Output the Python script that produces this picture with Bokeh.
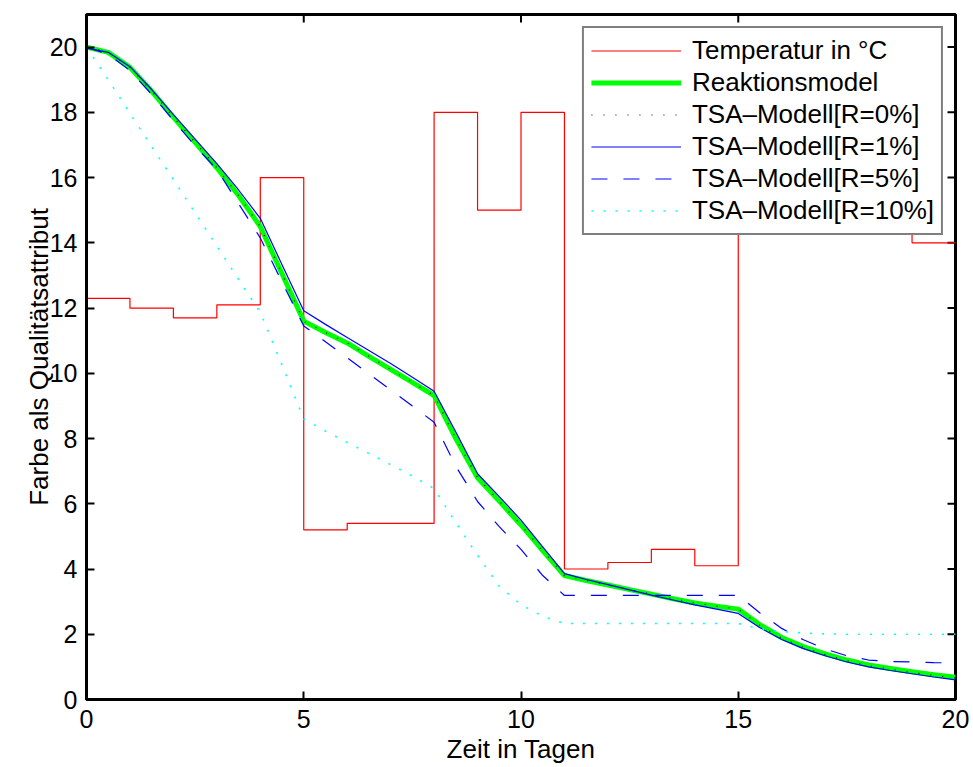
from bokeh.plotting import figure
from bokeh.models import FixedTicker, Range1d
from bokeh.embed import file_html
from bokeh.resources import INLINE

# ---------------- data ----------------
days = [0, 0.5, 1, 1.5, 2, 2.5, 3, 3.5, 4, 4.5, 5, 5.5, 6, 6.5, 7, 7.5, 8, 8.5, 9, 9.5,
        10, 10.5, 11, 11.5, 12, 12.5, 13, 13.5, 14, 14.5, 15, 15.5, 16, 16.5, 17, 17.5,
        18, 18.5, 19, 19.5, 20]

reaktionsmodel = [20.0, 19.84, 19.38, 18.65, 17.85, 17.08, 16.3, 15.45, 14.5, 13.05, 11.6,
                  11.25, 10.93, 10.52, 10.12, 9.72, 9.32, 8.0, 6.8, 6.08, 5.35, 4.56, 3.8,
                  3.65, 3.51, 3.37, 3.23, 3.09, 2.96, 2.86, 2.77, 2.29, 1.9, 1.62, 1.4, 1.21,
                  1.06, 0.95, 0.85, 0.76, 0.68]

tsa_r0 = [20.0, 19.84, 19.38, 18.65, 17.85, 17.08, 16.3, 15.45, 14.5, 13.05, 11.6,
          11.25, 10.93, 10.52, 10.12, 9.72, 9.32, 8.0, 6.8, 6.08, 5.35, 4.56, 3.8,
          3.65, 3.51, 3.37, 3.23, 3.09, 2.96, 2.86, 2.77, 2.27, 1.88, 1.6, 1.38, 1.19,
          1.04, 0.93, 0.83, 0.74, 0.66]

tsa_r1 = [19.97, 19.84, 19.4, 18.7, 17.93, 17.18, 16.43, 15.62, 14.75, 13.33, 11.92,
          11.5, 11.1, 10.7, 10.3, 9.88, 9.45, 8.2, 6.92, 6.22, 5.5, 4.68, 3.86,
          3.68, 3.52, 3.36, 3.2, 3.05, 2.9, 2.77, 2.64, 2.2, 1.84, 1.56, 1.34, 1.15,
          1.0, 0.89, 0.79, 0.69, 0.6]

tsa_r5 = [20.0, 19.78, 19.28, 18.55, 17.75, 16.97, 16.25, 15.2, 14.15, 12.8, 11.45,
          10.97, 10.48, 9.98, 9.49, 9.0, 8.5, 7.15, 6.07, 5.3, 4.6, 3.8, 3.19,
          3.19, 3.19, 3.19, 3.19, 3.19, 3.19, 3.19, 3.19, 2.65, 2.18, 1.83, 1.55, 1.34,
          1.21, 1.16, 1.15, 1.13, 1.12]

tsa_r10 = [20.0, 19.0, 17.97, 16.95, 15.94, 14.92, 13.9, 12.88, 11.87, 10.25, 8.6,
           8.23, 7.88, 7.54, 7.2, 6.85, 6.47, 5.42, 4.42, 3.47, 2.91, 2.55, 2.33,
           2.33, 2.33, 2.33, 2.33, 2.33, 2.33, 2.33, 2.33, 2.17, 2.08, 2.04, 2.01, 2.0,
           2.0, 2.0, 2.0, 2.0, 2.0]

temp_days = [0, 1, 2, 3, 4, 5, 6, 7, 8, 9, 10, 11, 12, 13, 14, 15, 16, 17, 18, 19, 20]
temp_values = [12.3, 12.0, 11.7, 12.1, 16.0, 5.2, 5.4, 5.4, 18.0, 15.0, 18.0, 4.0, 4.2,
               4.6, 4.1, 18.0, 18.0, 18.0, 18.0, 14.0, 14.0]

x_ticks = [0, 5, 10, 15, 20]
y_ticks = [0, 2, 4, 6, 8, 10, 12, 14, 16, 18, 20]
x_min, x_max = 0, 20
y_min, y_max = 0, 21

labels = ["Temperatur in °C", "Reaktionsmodel", "TSA–Modell[R=0%]",
          "TSA–Modell[R=1%]", "TSA–Modell[R=5%]", "TSA–Modell[R=10%]"]
x_title = "Zeit in Tagen"
y_title = "Farbe als Qualitätsattribut"

FONT = "Liberation Sans"
W, H = 973, 767
BORDER_L, BORDER_R, BORDER_T, BORDER_B = 86, 18, 14, 68
TICK_PX = 8

# ---------------- figure ----------------
p = figure(width=W, height=H, output_backend="svg", toolbar_location=None,
           x_range=Range1d(x_min, x_max), y_range=Range1d(y_min, y_max),
           min_border_left=BORDER_L, min_border_right=BORDER_R,
           min_border_top=BORDER_T, min_border_bottom=BORDER_B,
           x_axis_label=x_title, y_axis_label=y_title)

p.background_fill_color = "white"
p.border_fill_color = "white"
p.outline_line_color = "black"
p.outline_line_width = 3
p.xgrid.visible = False
p.ygrid.visible = False

p.xaxis.ticker = FixedTicker(ticks=x_ticks)
p.yaxis.ticker = FixedTicker(ticks=y_ticks)


def style_axis(ax):
    ax.axis_line_color = "black"
    ax.axis_line_width = 3
    ax.major_tick_in = TICK_PX
    ax.major_tick_out = 0
    ax.major_tick_line_width = 2
    ax.major_tick_line_color = "black"
    ax.minor_tick_line_color = None
    ax.major_label_text_font = FONT
    ax.major_label_text_color = "black"
    ax.major_label_text_font_size = "25px"
    ax.axis_label_text_font = FONT
    ax.axis_label_text_font_size = "26px"
    ax.axis_label_text_font_style = "normal"
    ax.axis_label_text_color = "black"


for ax in p.xaxis:
    style_axis(ax)
    ax.major_label_standoff = 10
    ax.axis_label_standoff = 3
    ax.major_label_text_line_height = 0.9
    ax.axis_label_text_line_height = 0.9
for ax in p.yaxis:
    style_axis(ax)
    ax.major_label_standoff = 9
    ax.axis_label_standoff = -7

# inward tick marks on the top and right edges of the box
frame_w = W - BORDER_L - BORDER_R
frame_h = H - BORDER_T - BORDER_B
dx = TICK_PX * (x_max - x_min) / frame_w
dy = TICK_PX * (y_max - y_min) / frame_h
p.segment(x0=[x_max] * len(y_ticks), y0=y_ticks,
          x1=[x_max - dx] * len(y_ticks), y1=y_ticks,
          line_color="black", line_width=2)
p.segment(x0=x_ticks, y0=[y_max] * len(x_ticks),
          x1=x_ticks, y1=[y_max - dy] * len(x_ticks),
          line_color="black", line_width=2)

# ---------------- glyphs ----------------
p.step(temp_days, temp_values, mode="after", line_color="#ff0000", line_width=1.2,
       legend_label=labels[0])
p.line(days, reaktionsmodel, line_color="#00ff00", line_width=5, line_join="round",
       legend_label=labels[1])
p.line(days, tsa_r0, line_color="black", line_width=1.2, line_dash="1 11",
       legend_label=labels[2])
p.line(days, tsa_r1, line_color="#0000ff", line_width=1.2,
       legend_label=labels[3])
p.line(days, tsa_r5, line_color="#0000ff", line_width=1.2, line_dash="16 16",
       legend_label=labels[4])
p.line(days, tsa_r10, line_color="#00ffff", line_width=1.6, line_dash="2 10",
       legend_label=labels[5])

# ---------------- legend ----------------
lg = p.legend[0]
lg.location = "top_right"
lg.margin = 12
lg.padding = 7
lg.spacing = 1
lg.glyph_width = 90
lg.glyph_height = 31
lg.label_height = 31
lg.label_standoff = 11
lg.label_text_font = FONT
lg.label_text_font_size = "26px"
lg.label_text_color = "black"
lg.border_line_color = "black"
lg.border_line_width = 2.5
lg.background_fill_color = "white"
lg.background_fill_alpha = 1.0

open("out.html", "w").write(file_html(p, INLINE))
